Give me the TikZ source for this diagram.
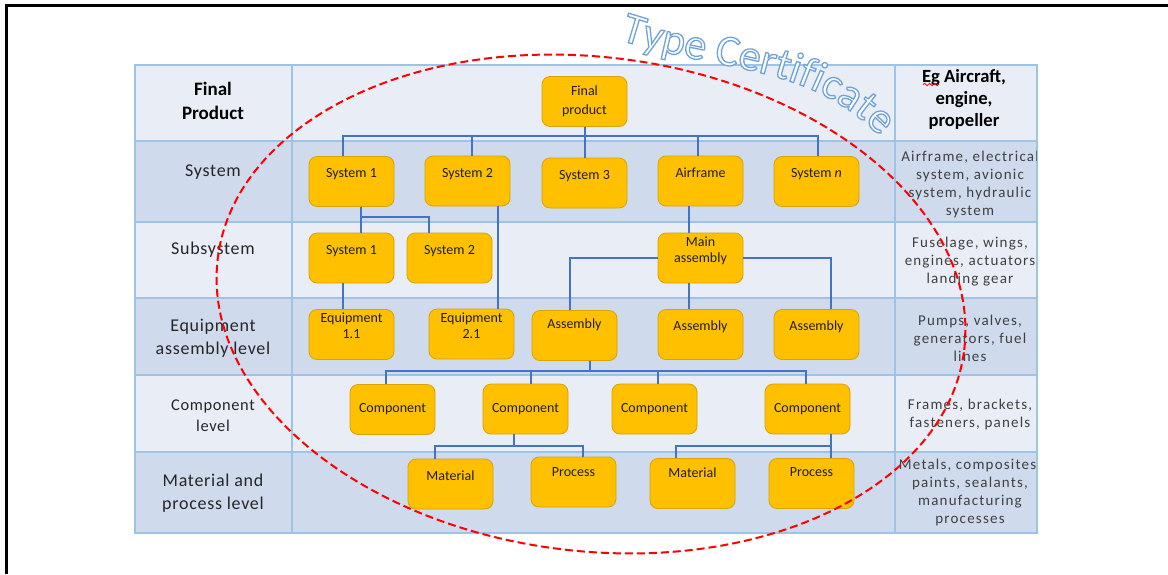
\documentclass[tikz,border=0pt]{standalone}
\usepackage{fontspec}
\setmainfont{Carlito}
\newfontfamily\lblfont[LetterSpace=4]{Carlito}
\newfontfamily\egfont[LetterSpace=8]{Carlito}
\newfontfamily\tcfam[FakeBold=3]{Carlito}
\newcommand{\tcfont}{\tcfam\fontsize{22}{22}\selectfont}
\usetikzlibrary{decorations.text, decorations.pathmorphing}
\definecolor{rowlight}{HTML}{E9EDF5}
\definecolor{rowdark}{HTML}{CFDAEC}
\definecolor{gridblue}{HTML}{9DC3E6}
\definecolor{boxfill}{HTML}{FFC000}
\definecolor{boxedge}{HTML}{D9A300}
\definecolor{linkblue}{HTML}{4472C4}
\tikzset{
  orgnode/.style = {draw=boxedge, fill=boxfill, rounded corners=4pt,
    minimum width=42.5pt, minimum height=25pt, inner sep=0pt,
    align=center, text=black!88, font=\fontsize{7}{8}\selectfont},
  hi/.style = {text height=5pt, text depth=#1},
  hi/.default = 9pt,
  hi2/.style = {text height=#1, text depth=5pt},
  lvl_lbl/.style = {align=center, text=black!85,
    font=\lblfont\fontsize{9}{11.5}\selectfont},
  eg_lbl/.style = {align=center, text=black!75,
    font=\egfont\fontsize{7.5}{9}\selectfont},
  link/.style = {draw=linkblue, line width=1pt},
  gridln/.style = {draw=gridblue, line width=1pt}}

\begin{document}
\begin{tikzpicture}[x=0.5pt, y=0.5pt]
\useasboundingbox (0,0) rectangle (1168,-574);
\draw[line width=1.5pt] (6,-574) -- (6,-5.5) -- (1168,-5.5);

% table
\fill[rowlight] (135,-65) rectangle (1037,-141);
\fill[rowdark] (135,-141) rectangle (1037,-222);
\fill[rowlight] (135,-222) rectangle (1037,-298);
\fill[rowdark] (135,-298) rectangle (1037,-375);
\fill[rowlight] (135,-375) rectangle (1037,-452);
\fill[rowdark] (135,-452) rectangle (1037,-533);
\draw[gridln] (135,-65) rectangle (1037,-533);
\foreach \yy in {141,222,298,375,452}
  \draw[gridln] (135,-\yy) -- (1037,-\yy);
\draw[gridln] (292,-65) -- (292,-533);
\draw[gridln] (895,-65) -- (895,-533);

% level names
\node[lvl_lbl, text=black, font=\bfseries\fontsize{9.5}{12}\selectfont] (lv1) at (213,-101) {Final\\Product};
\node[lvl_lbl] (lv2) at (213,-172) {System};
\node[lvl_lbl] (lv3) at (213,-250) {Subsystem};
\node[lvl_lbl] (lv4) at (213,-338) {Equipment\\assembly level};
\node[lvl_lbl, font=\lblfont\fontsize{8.2}{10.5}\selectfont] (lv5) at (213,-416) {Component\\level};
\node[lvl_lbl] (lv6) at (213,-493) {Material and\\process level};

% examples
\begin{scope}
\clip (896,-65) rectangle (1036,-533);
\node[align=center, font=\bfseries\fontsize{9.3}{11.2}\selectfont] (eg1) at (964,-99.5) {Eg Aircraft,\\engine,\\propeller};
\node[eg_lbl] (eg2) at (970,-184) {Airframe, electrical\\system, avionic\\system, hydraulic\\system};
\node[eg_lbl] (eg3) at (970,-262) {Fuselage, wings,\\engines, actuators\\landing gear};
\node[eg_lbl] (eg4) at (970,-338) {Pumps, valves,\\generators, fuel\\lines};
\node[eg_lbl] (eg5) at (970,-414) {Frames, brackets,\\fasteners, panels};
\node[eg_lbl] (eg6) at (970,-492.5) {Metals, composites,\\paints, sealants,\\manufacturing\\processes};
\end{scope}
\draw[red, line width=0.4pt, decorate, decoration={snake, amplitude=0.6pt, segment length=2.5pt}] (923,-84.5) -- (939,-84.5);

% breakdown boxes
\node[orgnode, font=\fontsize{7}{9.5}\selectfont] (fp) at (584.5,-101.5) {Final\\product};

\node[orgnode, hi] (s1) at (351.5,-181.5) {System 1};
\node[orgnode, hi] (s2) at (467.5,-181) {System 2};
\node[orgnode, hi] (s3) at (584.5,-183) {System 3};
\node[orgnode, hi] (af) at (700.5,-181) {Airframe};
\node[orgnode, hi] (sn) at (816.5,-181.5) {System~\textit{n}};

\node[orgnode, hi] (ss1) at (351.5,-258) {System 1};
\node[orgnode, hi] (ss2) at (449.5,-258) {System 2};
\node[orgnode, hi2=9.6pt] (ma) at (700.5,-258) {Main\\assembly};

\node[orgnode, hi2=9.1pt] (eq1) at (351.5,-334.5) {Equipment\\1.1};
\node[orgnode, hi2=9.6pt] (eq2) at (471.5,-334) {Equipment\\2.1};
\node[orgnode, hi=11.9pt] (as1) at (574.5,-335.5) {Assembly};
\node[orgnode, hi] (as2) at (700.5,-334.5) {Assembly};
\node[orgnode, hi] (as3) at (816.5,-334.5) {Assembly};

\node[orgnode] (cp1) at (392.5,-409.5) {Component};
\node[orgnode] (cp2) at (525.5,-409) {Component};
\node[orgnode] (cp3) at (654.5,-409) {Component};
\node[orgnode] (cp4) at (807.5,-409) {Component};

\node[orgnode, hi] (mt1) at (450.5,-484) {Material};
\node[orgnode, hi=10.4pt] (pr1) at (573.5,-482) {Process};
\node[orgnode, hi=10.8pt] (mt2) at (692.5,-483.5) {Material};
\node[orgnode, hi=11.9pt] (pr2) at (811.5,-483.5) {Process};

% links
\coordinate (bus1) at (584.5,-136);
\coordinate (bus2) at (361,-217);
\coordinate (bus3) at (590,-371);
\coordinate (bus4) at (514,-446);
\coordinate (bus5) at (831,-446);
\draw[link] (fp.south) -- (bus1);
\draw[link] ([xshift=-4.25pt]s1.north) |- (bus1);
\draw[link] ([xshift=2.25pt]s2.north) |- (bus1);
\draw[link] (s3.north) -- (bus1);
\draw[link] ([xshift=-1.5pt]af.north) |- (bus1);
\draw[link] ([xshift=0.75pt]sn.north) |- (bus1);

\draw[link] ([xshift=4.75pt]s1.south) -- ([xshift=4.75pt]ss1.north);
\draw[link] ([xshift=-10.25pt]ss2.north) |- (bus2);
\draw[link] ([xshift=15.25pt]s2.south) -- ([xshift=13.25pt]eq2.north);
\draw[link] ([xshift=-4.25pt]ss1.south) -- ([xshift=-4.25pt]eq1.north);
\draw[link] ([xshift=-6pt]af.south) -- ([xshift=-6pt]ma.north);

\draw[link] (ma.west) -| ([xshift=-2.25pt]as1.north);
\draw[link] ([xshift=-6pt]ma.south) -- ([xshift=-6pt]as2.north);
\draw[link] (ma.east) -| ([xshift=7.25pt]as3.north);

\draw[link] ([xshift=7.75pt]as1.south) -- (bus3);
\draw[link] ([xshift=-3.25pt]cp1.north) |- (bus3);
\draw[link] ([xshift=2.75pt]cp2.north) |- (bus3);
\draw[link] ([xshift=1.75pt]cp3.north) |- (bus3);
\draw[link] ([xshift=-0.75pt]cp4.north) |- (bus3);

\draw[link] ([xshift=-5.75pt]cp2.south) -- (bus4);
\draw[link] ([xshift=-7.75pt]mt1.north) |- (bus4);
\draw[link] ([xshift=4.75pt]pr1.north) |- (bus4);
\draw[link] ([xshift=11.75pt]cp4.south) -- (bus5);
\draw[link] ([xshift=-8.25pt]mt2.north) |- (bus5);
\draw[link] ([xshift=9.75pt]pr2.north) |- (bus5);

% type certificate boundary
\draw[red, line width=1pt, dash pattern=on 4pt off 2pt, rotate around={-7:(591,-304)}]
  (591,-304) ellipse [x radius=376, y radius=247];
\path[decorate, decoration={text along path,
    text={|\tcfont\color{white}\special{pdf:code 0.44 0.64 0.85 RG}|Type Certificate}}]
  (620,-40) to[out=-18,in=132] (888,-145);
\end{tikzpicture}
\end{document}
